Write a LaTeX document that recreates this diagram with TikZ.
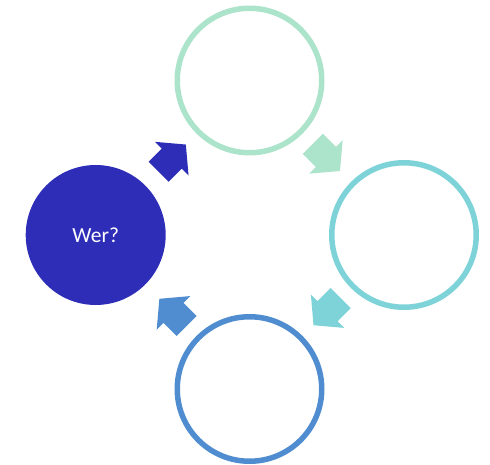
\documentclass[tikz,border=0pt]{standalone}
\usepackage{fontspec}
\setmainfont{Carlito}
\usetikzlibrary{calc,positioning,shapes.arrows}
\definecolor{werblue}{HTML}{2E2DB7}
\definecolor{cmint}{HTML}{ACE3CB}
\definecolor{cteal}{HTML}{7ED3D8}
\definecolor{cblue}{HTML}{508DD0}
\tikzset{
  ring/.style = {circle, draw=#1, line width=5.5pt, minimum size=144.5pt, inner sep=0pt},
  hub/.style  = {circle, fill=werblue, minimum size=140pt, inner sep=0pt, text=white, font=\fontsize{21.5}{25}\selectfont},
  turn/.style = {single arrow, fill=#1, draw=none, inner xsep=0pt, inner ysep=14pt,
                 minimum height=38.5pt, single arrow head extend=9.5pt, single arrow tip angle=100},
}
\begin{document}
\begin{tikzpicture}[x=1pt, y=-1pt]
  \useasboundingbox (0,0) rectangle (490,465);
  \coordinate (hubmid) at (249.5,235);
  \node[hub] (wer) at ($(hubmid)+(-153.8,0)$) {Wer?};
  \node[ring=cmint] (top) at ($(hubmid)+(0,-154.5)$) {};
  \node[ring=cteal] (rgt) at ($(hubmid)+(154.5,0)$) {};
  \node[ring=cblue] (bot) at ($(hubmid)+(0,154)$) {};
  % arrows round the cycle
  \node[turn=werblue, rotate=45]  (a1) at ($(wer)!0.5!(top)!6.5pt!(wer)$) {};
  \node[turn=cmint,   rotate=-45] (a2) at ($(top)!0.5!(rgt)!6.5pt!(top)$) {};
  \node[turn=cteal,   rotate=-135] (a3) at ($(rgt)!0.5!(bot)!6.5pt!(rgt)$) {};
  \node[turn=cblue,   rotate=135] (a4) at ($(bot)!0.5!(wer)!6.5pt!(bot)$) {};
\end{tikzpicture}
\end{document}
